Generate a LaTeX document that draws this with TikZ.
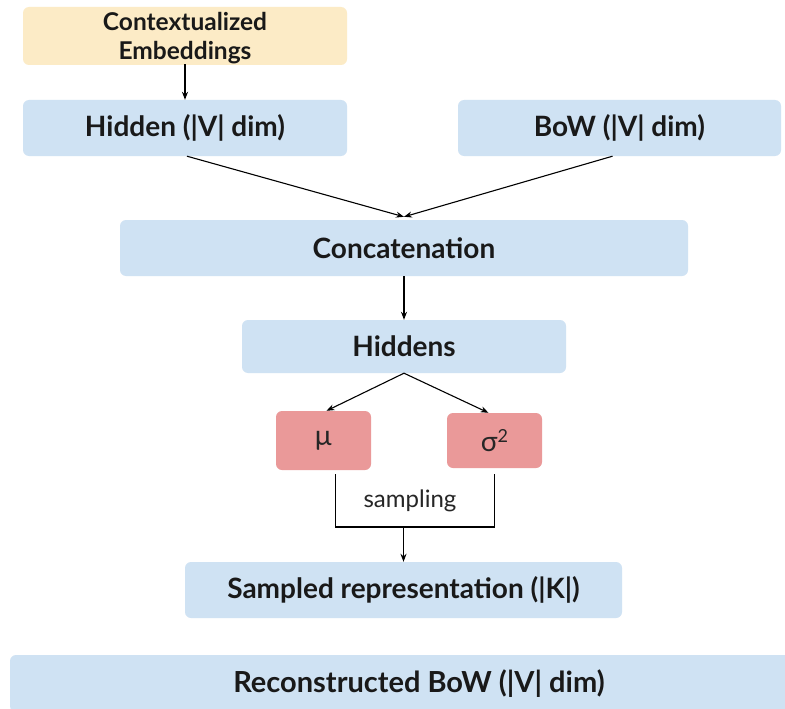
\documentclass[tikz,border=0pt]{standalone}
\usepackage{fontspec}
\setmainfont{Lato}
\usetikzlibrary{arrows.meta}
\definecolor{boxblue}{HTML}{CFE2F3}
\definecolor{boxyellow}{HTML}{FCEBC6}
\definecolor{boxred}{HTML}{EA9999}
\tikzset{
  block/.style={rounded corners=6pt, inner sep=0pt, font=\bfseries\fontsize{28}{32}\selectfont, text=black!90},
  blue block/.style={block, fill=boxblue},
  param/.style={rounded corners=6pt, inner sep=0pt, fill=boxred, font=\fontsize{28}{32}\selectfont, text=black!85},
  link/.style={line width=1.1pt, -{Stealth[length=8pt,width=6pt]}},
  plain link/.style={line width=1.1pt}
}
\begin{document}
\begin{tikzpicture}[x=1pt,y=-1pt]
  \useasboundingbox (0,0) rectangle (785,709);
  \clip (0,0) rectangle (785,709);
  \fill[white] (0,0) rectangle (785,709);

  % encoder inputs (two-line caption set a little below the box centre)
  \node[block, fill=boxyellow, minimum width=324pt, minimum height=56pt,
        font=\bfseries\fontsize{24.5}{29}\selectfont] (ctx) at (185,36)
    {\raisebox{-3pt}[\height][\depth]{\begin{tabular}{@{}c@{}}Contextualized\\Embeddings\end{tabular}}};
  \node[blue block, minimum width=324pt, minimum height=56pt] (hid) at (185,128) {Hidden (|V| dim)};
  \node[blue block, minimum width=323pt, minimum height=56pt] (bow) at (619.5,128) {BoW (|V| dim)};

  % inference network
  \node[blue block, minimum width=568pt, minimum height=56pt] (cat) at (404,248) {Concatenation};
  \node[blue block, minimum width=324pt, minimum height=53pt] (hids) at (404,346.5) {Hiddens};

  % posterior parameters
  \node[param, minimum width=95pt, minimum height=59pt] (mu) at (323.5,440.5) {µ};
  \node[param, minimum width=95pt, minimum height=55pt] (sig) at (494.5,440.5) {σ\raisebox{0.6ex}{\fontsize{18}{20}\selectfont 2}};

  % decoder side
  \node[blue block, minimum width=437pt, minimum height=56pt] (samp) at (403.5,590) {Sampled representation (|K|)};
  \node[blue block, minimum width=818pt, minimum height=57pt,
        font=\bfseries\fontsize{29}{33}\selectfont] (rec) at (419,683.5) {Reconstructed BoW (|V| dim)};

  % connectors
  \draw[link] ([yshift=1pt]ctx.south) -- (hid.north);
  \draw[link] ([xshift=2pt]hid.south) -- ([yshift=3pt]cat.north);
  \draw[link] ([xshift=-7pt]bow.south) -- ([yshift=3pt]cat.north);
  \draw[link] (cat.south) -- (hids.north);
  \draw[link] (hids.south) -- ([xshift=3pt]mu.north);
  \draw[link] (hids.south) -- ([xshift=-6pt]sig.north);

  \coordinate (join) at (403.5,527);
  \draw[plain link] ([xshift=12pt,yshift=-4pt]mu.south) |- (join) -| ([yshift=-6pt]sig.south);
  \draw[link] (join) -- (samp.north);
  \node[font=\fontsize{24}{28}\selectfont, text=black!85] (smp) at (410,501) {sampling};
\end{tikzpicture}
\end{document}
